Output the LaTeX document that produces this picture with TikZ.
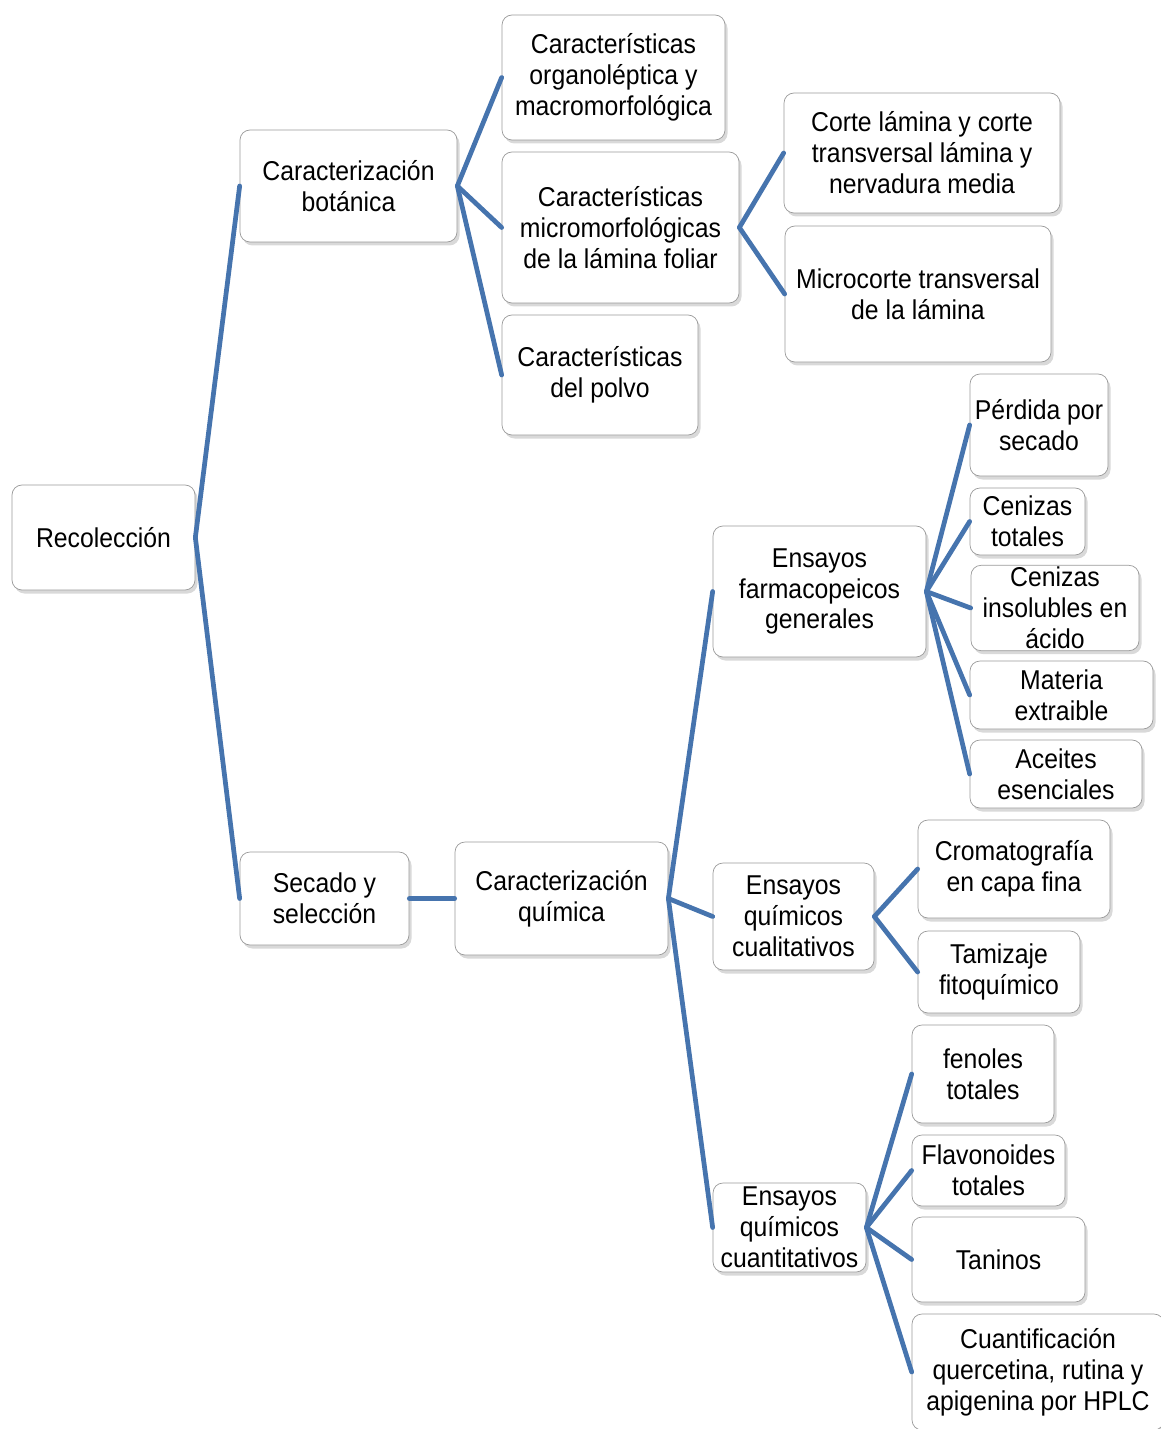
\documentclass[tikz,border=0pt]{standalone}
\usepackage{fontspec}
\setmainfont[FakeStretch=0.91]{Liberation Sans}
\usetikzlibrary{shadows}
\definecolor{linkblue}{HTML}{4674AE}
\definecolor{boxline}{HTML}{9A9A9A}

\begin{document}
\begin{tikzpicture}[
    x=0.02cm, y=-0.02cm,
    box/.style={draw=boxline, fill=white, rounded corners=2mm, align=center, inner sep=1pt,
      font=\fontsize{15.5}{17.6}\selectfont,
      drop shadow={opacity=0.3, shadow xshift=0.5mm, shadow yshift=-0.7mm}},
    wh/.style 2 args={minimum width=#1*0.02cm, minimum height=#2*0.02cm},
    link/.style={draw=linkblue, line width=2.7pt, line cap=round}
  ]
    \useasboundingbox (0,0) rectangle (1160,1429);

    % root
    \node[box, wh={183}{105}] (rec) at (103.5,537.5) {Recolección};

    % botanical branch
    \node[box, wh={217}{112}] (bot) at (348.5,186) {Caracterización\\botánica};
    \node[box, wh={223}{125}] (org) at (613.5,77.5) {Características\\organoléptica y\\macromorfológica};
    \node[box, wh={237}{151}] (micro) at (620.5,227.5) {Características\\micromorfológicas\\de la lámina foliar};
    \node[box, wh={196}{120}] (polvo) at (600,375) {Características\\del polvo};
    \node[box, wh={276}{120}] (corte) at (922,153) {Corte lámina y corte\\transversal lámina y\\nervadura media};
    \node[box, wh={266}{136}] (mcorte) at (918,294) {Microcorte transversal\\de la lámina};

    % chemical branch
    \node[box, wh={169}{93}] (sec) at (324.5,898.5) {Secado y\\selección};
    \node[box, wh={213}{113}] (quim) at (561.5,898.5) {Caracterización\\química};
    \node[box, wh={213}{131}] (farm) at (819.5,591.5) {Ensayos\\farmacopeicos\\generales};
    \node[box, wh={138}{102}] (perd) at (1039,425) {Pérdida por\\secado};
    \node[box, wh={115}{67}] (cen) at (1027.5,521.5) {Cenizas\\totales};
    \node[box, wh={168}{84}] (ceni) at (1055,608) {Cenizas\\insolubles en\\ácido};
    \node[box, wh={183}{68}] (mat) at (1061.5,695) {Materia\\extraible};
    \node[box, wh={172}{68}] (ace) at (1056,774) {Aceites\\esenciales};
    \node[box, wh={161}{107}] (cual) at (793.5,916.5) {Ensayos\\químicos\\cualitativos};
    \node[box, wh={192}{98}] (crom) at (1014,869) {Cromatografía\\en capa fina};
    \node[box, wh={162}{82}] (tam) at (999,972) {Tamizaje\\fitoquímico};
    \node[box, wh={153}{89}] (cuant) at (789.5,1227.5) {Ensayos\\químicos\\cuantitativos};
    \node[box, wh={142}{98}] (fen) at (983,1074) {fenoles\\totales};
    \node[box, wh={153}{71}] (flav) at (988.5,1170.5) {Flavonoides\\totales};
    \node[box, wh={173}{85}] (tan) at (998.5,1259.5) {Taninos};
    \node[box, wh={252}{116}] (hplc) at (1038,1372) {Cuantificación\\quercetina, rutina y\\apigenina por HPLC};

    % connectors
    \draw[link] (rec.east) -- (bot.west);
    \draw[link] (rec.east) -- (sec.west);
    \draw[link] (bot.east) -- (org.west);
    \draw[link] (bot.east) -- (micro.west);
    \draw[link] (bot.east) -- (polvo.west);
    \draw[link] (micro.east) -- (corte.west);
    \draw[link] (micro.east) -- (mcorte.west);
    \draw[link] (sec.east) -- (quim.west);
    \draw[link] (quim.east) -- (farm.west);
    \draw[link] (quim.east) -- (cual.west);
    \draw[link] (quim.east) -- (cuant.west);
    \draw[link] (farm.east) -- (perd.west);
    \draw[link] (farm.east) -- (cen.west);
    \draw[link] (farm.east) -- (ceni.west);
    \draw[link] (farm.east) -- (mat.west);
    \draw[link] (farm.east) -- (ace.west);
    \draw[link] (cual.east) -- (crom.west);
    \draw[link] (cual.east) -- (tam.west);
    \draw[link] (cuant.east) -- (fen.west);
    \draw[link] (cuant.east) -- (flav.west);
    \draw[link] (cuant.east) -- (tan.west);
    \draw[link] (cuant.east) -- (hplc.west);
  \end{tikzpicture}
\end{document}
